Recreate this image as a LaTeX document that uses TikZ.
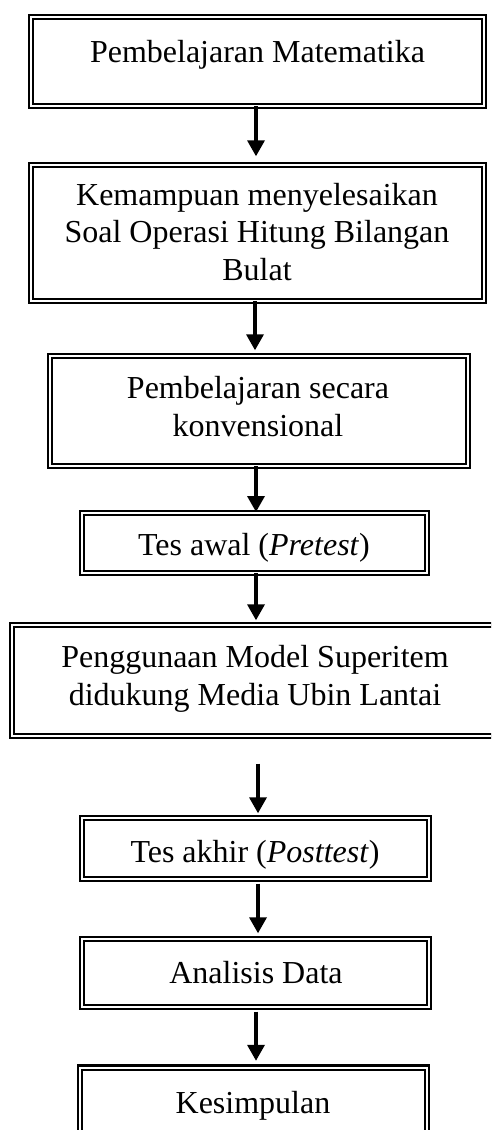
\documentclass[tikz,border=0pt]{standalone}
\usepackage{fontspec}
\setmainfont{Liberation Serif}
\usetikzlibrary{arrows.meta}
\begin{document}
\begin{tikzpicture}[x=1pt,y=-1pt,
  box/.style={draw=black, line width=2.1pt, double=white, double distance=2pt,
    rectangle, inner sep=0pt, outer sep=0pt},
  lbl/.style={anchor=base, align=center, inner sep=0pt,
    font=\fontsize{32}{37.5}\selectfont},
  arr/.style={line width=3.4pt, -{Triangle[width=17pt,length=16pt]}}]
\useasboundingbox (0,0) rectangle (491,1130);
\clip (0,0) rectangle (491,1130);
% boxes
\node[box, minimum width=453pt, minimum height=89pt]  (b1) at (257.5,61.5) {};
\node[box, minimum width=453pt, minimum height=136pt] (b2) at (257.5,233) {};
\node[box, minimum width=418pt, minimum height=110pt] (b3) at (259,411) {};
\node[box, minimum width=345pt, minimum height=60pt]  (b4) at (254.5,543) {};
\node[box, minimum width=490pt, minimum height=111pt] (b5) at (257,680.5) {};
\node[box, minimum width=347pt, minimum height=61pt]  (b6) at (255.5,848.5) {};
\node[box, minimum width=347pt, minimum height=68pt]  (b7) at (255.5,973) {};
\node[box, minimum width=347pt, minimum height=75pt]  (b8) at (253.5,1105) {};
% labels
\node[lbl] (t1) at (257.5,62) {Pembelajaran Matematika};
\node[lbl] (t2) at (257,280) {Kemampuan menyelesaikan\\Soal Operasi Hitung Bilangan\\Bulat};
\node[lbl] (t3) at (258,436) {Pembelajaran secara\\konvensional};
\node[lbl] (t4) at (254,555) {Tes awal (\textit{Pretest})};
\node[lbl] (t5) at (255,705) {Penggunaan Model Superitem\\didukung Media Ubin Lantai};
\node[lbl] (t6) at (255,862) {Tes akhir (\textit{Posttest})};
\node[lbl] (t7) at (256,983) {Analisis Data};
\node[lbl] (t8) at (253,1113) {Kesimpulan};
% arrows
\draw[arr, shorten >=8.7pt] (b1.south -| 256,0) -- (b2.north -| 256,0);
\draw[arr, shorten >=5.7pt] (b2.south -| 255,0) -- (b3.north -| 255,0);
\draw[arr, shorten >=1pt]   (b3.south -| 256,0) -- (b4.north -| 256,0);
\draw[arr, shorten >=4.7pt] (b4.south -| 256,0) -- (b5.north -| 256,0);
\draw[arr, shorten <=27.7pt, shorten >=4.7pt] (b5.south -| 258,0) -- (b6.north -| 258,0);
\draw[arr, shorten <=4.7pt, shorten >=5.7pt]  (b6.south -| 258,0) -- (b7.north -| 258,0);
\draw[arr, shorten <=4.7pt, shorten >=6.7pt]  (b7.south -| 256,0) -- (b8.north -| 256,0);
\end{tikzpicture}
\end{document}
